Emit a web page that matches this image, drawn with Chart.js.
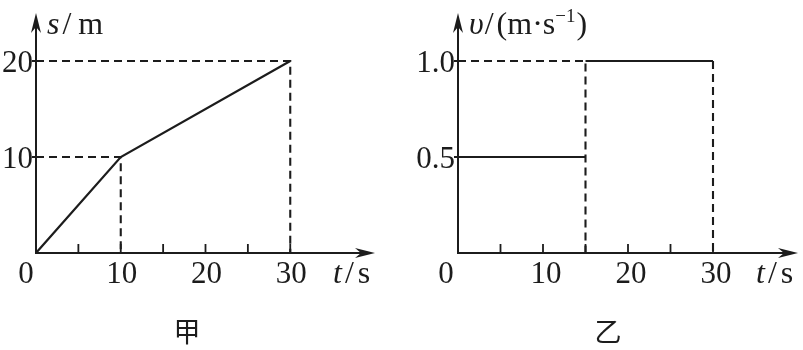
<!DOCTYPE html>
<html>
<head>
<meta charset="utf-8">
<script src="https://cdn.jsdelivr.net/npm/chart.js@4/dist/chart.umd.min.js"></script>
<style>
  body { margin: 0; background: #fff; }
  #wrap { position: relative; width: 803px; height: 350px; background: #fff; }
  canvas { position: absolute; top: 0; }
  .cap { position: absolute; top: 317px; font: 27px "Noto Sans CJK SC"; line-height: 27px; color: #1c1c1c; transform: translateX(-50%); }
</style>
</head>
<body>
<div id="wrap">
  <canvas id="chartS" width="400" height="350" style="left:0"></canvas>
  <canvas id="chartV" width="403" height="350" style="left:400px"></canvas>
  <div class="cap" style="left:187px">甲</div>
  <div class="cap" style="left:608px">乙</div>
</div>
<script>
// s-t graph (甲)
const sTime = [0, 10, 30];
const sDist = [0, 10, 20];
const sGuideATime = [0, 10, 10];
const sGuideADist = [10, 10, 0];
const sGuideBTime = [0, 30, 30];
const sGuideBDist = [20, 20, 0];
const sLabels = [10, 20];

// v-t graph (乙)
const vTimeA = [0, 15];
const vSpeedA = [0.5, 0.5];
const vTimeB = [15, 30];
const vSpeedB = [1.0, 1.0];
const vGuideATime = [0, 15, 15];
const vGuideASpeed = [1.0, 1.0, 0];
const vGuideBTime = [30, 30];
const vGuideBSpeed = [1.0, 0];
const vLabels = [0.5, 1.0];

// shared time axis
const tickTimes = [5, 10, 15, 20, 25, 30];
const timeLabels = [10, 20, 30];

const INK = "#1c1c1c";
const SERIF = '"Liberation Serif", "DejaVu Serif", serif';

function pts(xs, ys) {
  return xs.map((x, i) => ({ x: x, y: ys[i] }));
}

function solid(data) {
  return { data: data, borderColor: INK, borderWidth: 2.2, pointRadius: 0, showLine: true, fill: false };
}

function dashed(data) {
  return { data: data, borderColor: INK, borderWidth: 2.1, borderDash: [8, 5], pointRadius: 0, showLine: true, fill: false };
}

// draws text pieces one after another (italic letters, upright units, superscripts)
function drawRuns(ctx, x, y, runs) {
  let cx = x;
  runs.forEach((r) => {
    cx += r.gap || 0;
    ctx.font = r.font;
    ctx.fillText(r.t, cx, y - (r.rise || 0));
    cx += ctx.measureText(r.t).width;
  });
}

function arrow(ctx, tx, ty, dx, dy) {
  const len = 20, half = 5, notch = 6;
  const bx = tx - dx * len, by = ty - dy * len;
  const px = -dy, py = dx;
  ctx.beginPath();
  ctx.moveTo(tx, ty);
  ctx.lineTo(bx + px * half, by + py * half);
  ctx.lineTo(tx - dx * (len - notch), ty - dy * (len - notch));
  ctx.lineTo(bx - px * half, by - py * half);
  ctx.closePath();
  ctx.fill();
}

const physAxes = {
  id: "physAxes",
  afterDatasetsDraw(chart, args, opts) {
    const ctx = chart.ctx;
    const xs = chart.scales.x, ys = chart.scales.y;
    const x0 = xs.getPixelForValue(0), y0 = ys.getPixelForValue(0);
    const xEnd = xs.right, yEnd = ys.top;
    ctx.save();
    ctx.strokeStyle = INK;
    ctx.fillStyle = INK;
    ctx.lineWidth = 2;
    ctx.setLineDash([]);

    // axis lines with arrows
    ctx.beginPath();
    ctx.moveTo(x0, y0 + 1);
    ctx.lineTo(x0, yEnd + 12);
    ctx.moveTo(x0 - 1, y0);
    ctx.lineTo(xEnd - 12, y0);
    ctx.stroke();
    arrow(ctx, x0, yEnd, 0, -1);
    arrow(ctx, xEnd, y0, 1, 0);

    // time ticks
    ctx.lineWidth = 1.8;
    ctx.beginPath();
    tickTimes.forEach((t) => {
      const px = xs.getPixelForValue(t);
      ctx.moveTo(px, y0);
      ctx.lineTo(px, y0 - 9);
    });
    opts.yLabels.forEach((v) => {
      const py = ys.getPixelForValue(v);
      ctx.moveTo(x0 - 4, py);
      ctx.lineTo(x0 + 4, py);
    });
    ctx.stroke();

    // tick labels
    ctx.font = "31px " + SERIF;
    ctx.textBaseline = "alphabetic";
    ctx.textAlign = "center";
    timeLabels.forEach((t) => {
      ctx.fillText(String(t), xs.getPixelForValue(t) + opts.xLabelShift, y0 + 30);
    });
    ctx.fillText("0", x0 - opts.zeroShift, y0 + 30);
    ctx.textAlign = "right";
    opts.yLabels.forEach((v) => {
      ctx.fillText(opts.fmt(v), x0 - 3, ys.getPixelForValue(v) + 11);
    });

    // axis titles
    ctx.textAlign = "left";
    drawRuns(ctx, x0 + opts.yTitleDx, 34, opts.yTitle);
    drawRuns(ctx, xEnd - 42, y0 + 30, [
      { t: "t", font: "italic 32px " + SERIF },
      { t: "/", font: "32px " + SERIF, gap: 3 },
      { t: "s", font: "32px " + SERIF, gap: 4 }
    ]);
    ctx.restore();
  }
};

function makeChart(id, datasets, yMax, pad, axisOpts) {
  return new Chart(document.getElementById(id), {
    type: "scatter",
    data: { datasets: datasets },
    options: {
      responsive: false,
      animation: false,
      devicePixelRatio: 1,
      layout: { padding: pad },
      scales: {
        x: { type: "linear", min: 0, max: 40, display: false },
        y: { type: "linear", min: 0, max: yMax, display: false }
      },
      plugins: { legend: { display: false }, tooltip: { enabled: false }, physAxes: axisOpts }
    },
    plugins: [physAxes]
  });
}

makeChart("chartS", [
  dashed(pts(sGuideATime, sGuideADist)),
  dashed(pts(sGuideBTime, sGuideBDist)),
  solid(pts(sTime, sDist))
], 25, { left: 36, right: 25, top: 13, bottom: 97 }, {
  yLabels: sLabels,
  fmt: (v) => String(v),
  zeroShift: 10,
  xLabelShift: 1,
  yTitleDx: 11,
  yTitle: [
    { t: "s", font: "italic 32px " + SERIF },
    { t: "/", font: "32px " + SERIF, gap: 3 },
    { t: "m", font: "32px " + SERIF, gap: 7 }
  ]
});

makeChart("chartV", [
  dashed(pts(vGuideATime, vGuideASpeed)),
  dashed(pts(vGuideBTime, vGuideBSpeed)),
  solid(pts(vTimeA, vSpeedA)),
  solid(pts(vTimeB, vSpeedB))
], 1.25, { left: 58, right: 5, top: 13, bottom: 97 }, {
  yLabels: vLabels,
  fmt: (v) => v.toFixed(1),
  zeroShift: 12,
  xLabelShift: 3,
  yTitleDx: 11,
  yTitle: [
    { t: "υ", font: "italic 32px " + SERIF },
    { t: "/", font: "32px " + SERIF, gap: 1 },
    { t: "(m·s", font: "32px " + SERIF, gap: 3 },
    { t: "−1", font: "19px " + SERIF, rise: 12 },
    { t: ")", font: "32px " + SERIF, gap: 1 }
  ]
});
</script>
</body>
</html>
